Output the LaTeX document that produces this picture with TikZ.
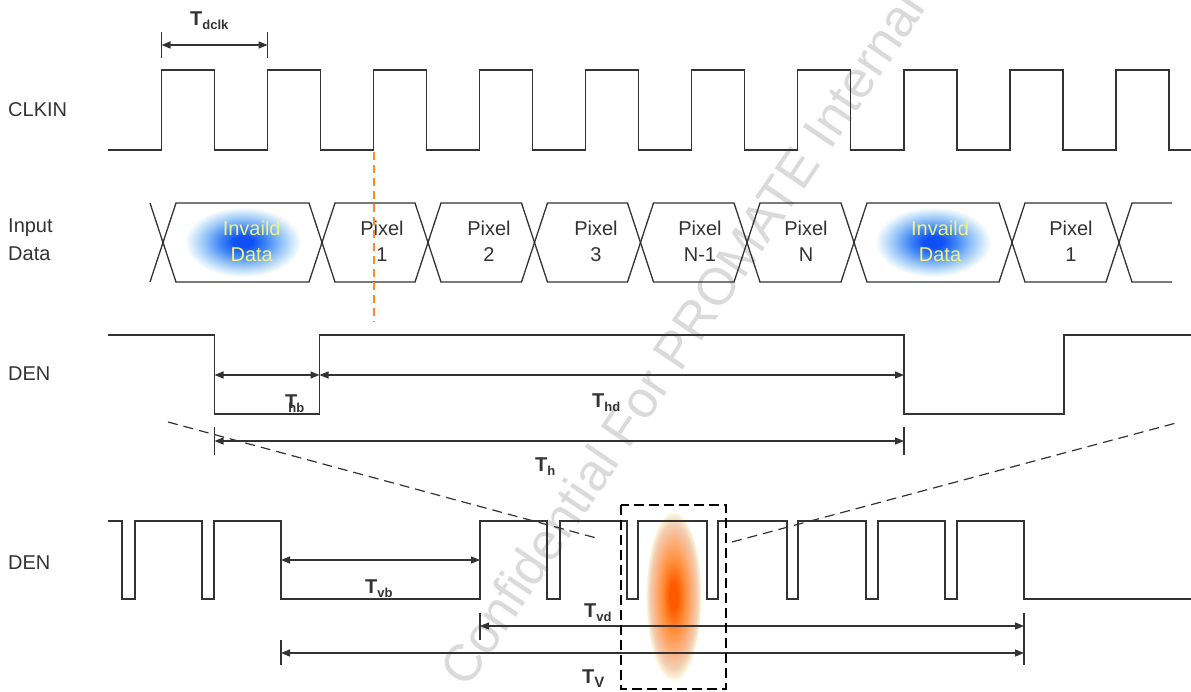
\documentclass[tikz,border=0pt]{standalone}
\usepackage{fontspec}
\setmainfont{Liberation Sans}
\usetikzlibrary{arrows.meta}
\definecolor{ln}{HTML}{333333}
\definecolor{wm}{HTML}{DADADA}
\definecolor{inv}{HTML}{F2F27E}
\definecolor{orl}{HTML}{FF8A1E}
\definecolor{bC}{HTML}{0E50F5}
\definecolor{bM}{HTML}{3F86F6}
\definecolor{bL}{HTML}{8DBEF8}
\definecolor{bP}{HTML}{CBE5FB}
\definecolor{oC}{HTML}{FF5A00}
\definecolor{oM}{HTML}{FF8C35}
\definecolor{oL}{HTML}{FDAE78}
\definecolor{oP}{HTML}{F2CDB2}
\definecolor{oE}{HTML}{FBF2D6}
\pgfdeclareradialshading{blueblob}{\pgfpoint{0bp}{0bp}}{color(0bp)=(bC); color(4bp)=(bC); color(10bp)=(bM); color(16bp)=(bL); color(21bp)=(bP); color(25bp)=(white); color(50bp)=(white)}
\pgfdeclareradialshading{orangeblob}{\pgfpoint{0bp}{0bp}}{color(0bp)=(oC); color(4bp)=(oC); color(10bp)=(oM); color(16bp)=(oL); color(21bp)=(oP); color(24bp)=(oE); color(25bp)=(white); color(50bp)=(white)}
\begin{document}
\begin{tikzpicture}[x=1pt,y=-1pt,
  sig/.style={draw=ln, line width=1.3pt, line join=miter},
  tip/.tip={Triangle[length=9pt,width=7pt]},
  dimline/.style={draw=ln, line width=1.3pt, tip-tip},
  tick/.style={draw=ln, line width=1.3pt},
  lbl/.style={font=\fontsize{20}{26}\selectfont, text=ln, inner sep=0pt},
  celltxt/.style={font=\fontsize{20}{26}\selectfont, text=ln, align=center, inner sep=0pt},
  invtxt/.style={font=\fontsize{20}{26}\selectfont, text=inv, align=center, inner sep=0pt},
  tlbl/.style={anchor=base west, inner sep=0pt, text=ln},
  zoomdash/.style={draw=ln, line width=1.2pt, dash pattern=on 10pt off 6pt},
  boxdash/.style={draw=black, line width=2.6pt, dash pattern=on 10pt off 5pt},
  markdash/.style={draw=orl, line width=2pt, dash pattern=on 8pt off 5pt}]
\useasboundingbox (0,0) rectangle (1191,691);
\fill[white] (0,0) rectangle (1191,691);

% watermark
\node[rotate=56, anchor=base west, text=wm, font=\fontsize{52}{52}\selectfont, inner sep=0pt] (wmark) at (467,690) {Confidential For PROMATE Internal};

% blobs
\shade[shading=blueblob] (243,242) ellipse [x radius=58, y radius=35];
\shade[shading=blueblob] (933,242) ellipse [x radius=58, y radius=35];
\shade[shading=orangeblob] (673.5,596) ellipse [x radius=28, y radius=85];

% labels left
\node[lbl, anchor=west] (lclk) at (8,110) {CLKIN};
\node[lbl, anchor=west] (lin1) at (8,228) {Input};
\node[lbl, anchor=west] (lin2) at (8,254) {Data};
\node[lbl, anchor=west] (lden1) at (8,374) {DEN};
\node[lbl, anchor=west] (lden2) at (8,563) {DEN};

% CLKIN
\draw[sig] (108,150)
  \foreach \r in {161.5,267.6,373.6,479.7,585.7,691.8,797.8,903.9,1009.9,1116}
  { -- (\r,150) -- (\r,70) -- ({\r+53},70) -- ({\r+53},150) } -- (1191,150);

% Tdclk
\coordinate (ck0) at (161.5,45);
\coordinate (ck1) at (267.6,45);
\draw[tick] (161.5,31.7) -- (161.5,58.3);
\draw[tick] (267.6,31.7) -- (267.6,58.3);
\draw[dimline] (ck0) -- (ck1);
\node[tlbl] (tdclk) at (190,25) {\fontsize{20}{20}\selectfont\bfseries T\raisebox{-4pt}{\fontsize{13}{13}\selectfont dclk}};

% Input data bus
\def\tp{203}\def\bt{282}\def\md{242.5}\def\hw{13}
\draw[sig] (150,\tp) -- (163,\md) -- (150,\bt);
\foreach \a/\b in {163/322,322/428,428/534.5,534.5/640.5,640.5/747,747/854,854/1012,1012/1119}
  \draw[sig] (\a,\md) -- ({\a+\hw},\tp) -- ({\b-\hw},\tp) -- (\b,\md) -- ({\b-\hw},\bt) -- ({\a+\hw},\bt) -- cycle;
\draw[sig] (1172,\tp) -- (1132,\tp) -- (1119,\md) -- (1132,\bt) -- (1172,\bt);

\node[invtxt] (inv1) at (251.7,241) {Invaild\\Data};
\node[celltxt] (px1) at (382,241) {Pixel\\1};
\node[celltxt] (px2) at (489,241) {Pixel\\2};
\node[celltxt] (px3) at (596,241) {Pixel\\3};
\node[celltxt] (pxn1) at (700,241) {Pixel\\N-1};
\node[celltxt] (pxn) at (806,241) {Pixel\\N};
\node[invtxt] (inv2) at (940,241) {Invaild\\Data};
\node[celltxt] (px1b) at (1071,241) {Pixel\\1};

% orange marker
\coordinate (om0) at (374,152);
\coordinate (om1) at (374,322);
\draw[markdash] (om0) -- (om1);

% DEN (line)
\draw[sig] (108,335) -- (214.5,335) -- (214.5,414) -- (319.5,414) -- (319.5,335) -- (904,335) -- (904,414) -- (1064,414) -- (1064,335) -- (1191,335);
\coordinate (hb0) at (214.5,375);
\coordinate (hb1) at (319.5,375);
\coordinate (hd1) at (904,375);
\draw[dimline] (hb0) -- (hb1);
\draw[dimline] (hb1) -- (hd1);
\coordinate (h0) at (214.5,441);
\coordinate (h1) at (904,441);
\draw[tick] (214.5,427) -- (214.5,455);
\draw[tick] (904,427) -- (904,455);
\draw[dimline] (h0) -- (h1);
\node[tlbl] (thb) at (285,408) {\fontsize{20}{20}\selectfont\bfseries T\kern-9pt\raisebox{-4pt}{\fontsize{13}{13}\selectfont hb}};
\node[tlbl] (thd) at (592,407) {\fontsize{20}{20}\selectfont\bfseries T\raisebox{-4pt}{\fontsize{13}{13}\selectfont hd}};
\node[tlbl] (th) at (535,471.5) {\fontsize{20}{20}\selectfont\bfseries T\raisebox{-4pt}{\fontsize{13}{13}\selectfont h}};

% zoom lines
\coordinate (zl0) at (168,422);
\coordinate (zl1) at (600,539);
\coordinate (zr0) at (732,542);
\coordinate (zr1) at (1176,423);
\draw[zoomdash] (zl0) -- (zl1);
\draw[zoomdash] (zr0) -- (zr1);

% DEN (frame)
\draw[sig] (108,521) -- (122,521) -- (122,599) -- (135,599) -- (135,521) -- (202,521) -- (202,599) -- (214,599) -- (214,521) -- (281,521) -- (281,599) -- (480,599) -- (480,521)
  \foreach \f/\r in {547/560,627/638,707/718,787/798,866/878,945/957}
  { -- (\f,521) -- (\f,599) -- (\r,599) -- (\r,521) } -- (1024,521) -- (1024,599) -- (1191,599);

\coordinate (vb0) at (281,560);
\coordinate (vb1) at (480,560);
\draw[dimline] (vb0) -- (vb1);
\coordinate (vd0) at (480,626);
\coordinate (vd1) at (1024,626);
\coordinate (v0) at (281,653);
\coordinate (v1) at (1024,653);
\draw[tick] (480,613) -- (480,640);
\draw[tick] (1024,613) -- (1024,665);
\draw[tick] (281,640) -- (281,665);
\draw[dimline] (vd0) -- (vd1);
\draw[dimline] (v0) -- (v1);
\node[tlbl] (tvb) at (365,593) {\fontsize{20}{20}\selectfont\bfseries T\raisebox{-4pt}{\fontsize{13}{13}\selectfont vb}};
\node[tlbl] (tvd) at (584,617) {\fontsize{20}{20}\selectfont\bfseries T\raisebox{-4pt}{\fontsize{13}{13}\selectfont vd}};
\node[tlbl] (tv) at (582,683) {\fontsize{20}{20}\selectfont\bfseries T\raisebox{-4pt}{\fontsize{15}{15}\selectfont V}};

% dashed zoom box
\coordinate (zb0) at (621,505);
\coordinate (zb1) at (726,689);
\draw[boxdash] (zb0) rectangle (zb1);
\end{tikzpicture}
\end{document}
